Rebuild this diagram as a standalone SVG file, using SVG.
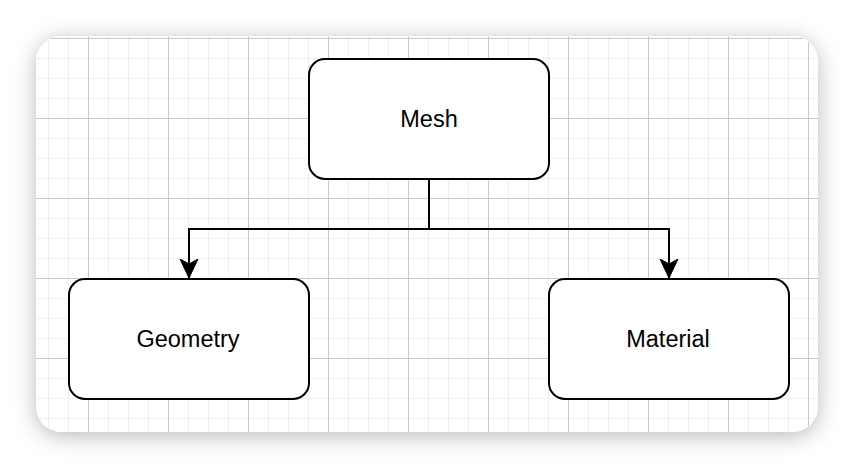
<svg xmlns="http://www.w3.org/2000/svg" width="854" height="468" viewBox="0 0 854 468">
  <defs>
    <filter id="shadow" x="-10%" y="-15%" width="120%" height="140%">
      <feDropShadow dx="0" dy="4" stdDeviation="11" flood-color="#000" flood-opacity="0.28"/>
    </filter>
    <pattern id="minor" x="8" y="18" width="20" height="20" patternUnits="userSpaceOnUse">
      <path d="M0 0H20M0 0V20" fill="none" stroke="#efefef" stroke-width="2"/>
    </pattern>
    <pattern id="major" x="8" y="38" width="80" height="80" patternUnits="userSpaceOnUse">
      <path d="M0 0.5H80M0.5 0V80" fill="none" stroke="#c8c8c8" stroke-width="1"/>
    </pattern>
    <clipPath id="card">
      <rect x="36" y="36" width="782" height="396" rx="26"/>
    </clipPath>
    <marker id="arrow" viewBox="0 0 20 20" refX="19" refY="10" markerWidth="20" markerHeight="20" markerUnits="userSpaceOnUse" orient="auto">
      <path d="M0 1 L19 10 L0 19 L5 10 Z" fill="#000" stroke="#000" stroke-width="1"/>
    </marker>
    <style>
      .node { fill: #fff; stroke: #000; stroke-width: 2; }
      .label { font-family: "Liberation Sans", Arial, Helvetica, sans-serif; font-size: 23.5px; fill: #000; text-anchor: middle; dominant-baseline: central; }
      .edge { fill: none; stroke: #000; stroke-width: 2; }
    </style>
  </defs>
  <rect width="854" height="468" fill="#fff"/>
  <rect x="36" y="36" width="782" height="396" rx="26" fill="#fff" filter="url(#shadow)"/>
  <g clip-path="url(#card)">
    <rect x="36" y="36" width="782" height="396" fill="url(#minor)"/>
    <rect x="36" y="36" width="782" height="396" fill="url(#major)"/>
  </g>
  <g id="connectors">
    <path class="edge" d="M429 179 V229 H189 V278" marker-end="url(#arrow)"/>
    <path class="edge" d="M429 229 H669 V278" marker-end="url(#arrow)"/>
  </g>
  <g id="mesh">
    <rect class="node" x="309" y="59" width="240" height="120" rx="16"/>
    <text class="label" x="429" y="119">Mesh</text>
  </g>
  <g id="geometry">
    <rect class="node" x="69" y="279" width="240" height="120" rx="16"/>
    <text class="label" x="188" y="339">Geometry</text>
  </g>
  <g id="material">
    <rect class="node" x="549" y="279" width="240" height="120" rx="16"/>
    <text class="label" x="668" y="339">Material</text>
  </g>
</svg>
